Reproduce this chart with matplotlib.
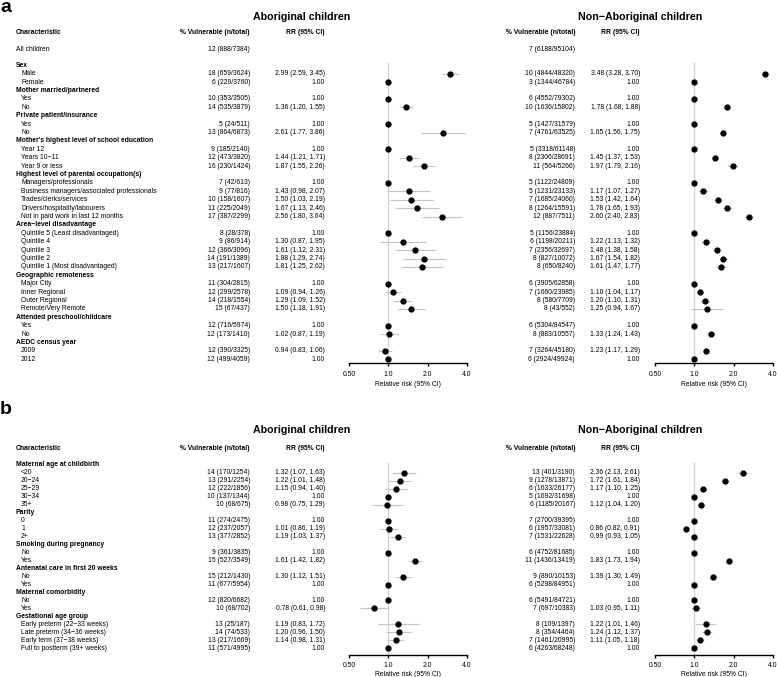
import numpy as np
import matplotlib
matplotlib.use("Agg")
import matplotlib.pyplot as plt
from matplotlib.ticker import FixedLocator, NullLocator

plt.rcParams['font.family'] = ['Liberation Sans', 'DejaVu Sans']
nan = np.nan

# ---------------- panel a data ----------------
a_groups = ["Sex", "Mother married/partnered", "Private patient/insurance",
            "Mother's highest level of school education",
            "Highest level of parental occupation(s)", "Area\u2212level disadvantage",
            "Geographic remoteness", "Attended preschool/childcare", "AEDC census year"]
a_levels = [["Male", "Female"], ["Yes", "No"], ["Yes", "No"],
            ["Year 12", "Years 10\u221211", "Year 9 or less"],
            ["Managers/professionals", "Business managers/associated professionals",
             "Trades/clerks/services", "Drivers/hospitality/labourers",
             "Not in paid work in last 12 months"],
            ["Quintile 5 (Least disadvantaged)", "Quintile 4", "Quintile 3", "Quintile 2",
             "Quintile 1 (Most disadvantaged)"],
            ["Major City", "Inner Regional", "Outer Regional", "Remote/Very Remote"],
            ["Yes", "No"], ["2009", "2012"]]

ab_all = (12, 888, 7384)
na_all = (7, 6188, 95104)

ab_a_pct = [18, 6, 10, 14, 5, 13, 9, 12, 16, 7, 9, 10, 11, 17, 8, 9, 12, 14, 13,
            11, 12, 14, 15, 12, 12, 12, 12]
ab_a_n = [659, 229, 353, 535, 24, 864, 185, 473, 230, 42, 77, 158, 225, 387,
          28, 86, 366, 191, 217, 304, 299, 218, 67, 716, 173, 390, 499]
ab_a_tot = [3624, 3760, 3505, 3879, 511, 6873, 2140, 3820, 1424, 613, 816, 1607, 2049, 2299,
            378, 914, 3096, 1389, 1607, 2815, 2578, 1554, 437, 5974, 1410, 3325, 4059]
ab_a_rr = [2.99, 1, 1, 1.36, 1, 2.61, 1, 1.44, 1.87, 1, 1.43, 1.50, 1.67, 2.56,
           1, 1.30, 1.61, 1.88, 1.81, 1, 1.09, 1.29, 1.50, 1, 1.02, 0.94, 1]
ab_a_lo = [2.59, nan, nan, 1.20, nan, 1.77, nan, 1.21, 1.55, nan, 0.98, 1.03, 1.13, 1.80,
           nan, 0.87, 1.12, 1.29, 1.25, nan, 0.94, 1.09, 1.18, nan, 0.87, 0.83, nan]
ab_a_hi = [3.45, nan, nan, 1.55, nan, 3.86, nan, 1.71, 2.26, nan, 2.07, 2.19, 2.46, 3.64,
           nan, 1.95, 2.31, 2.74, 2.62, nan, 1.26, 1.52, 1.91, nan, 1.19, 1.06, nan]

na_a_pct = [10, 3, 6, 10, 5, 7, 5, 8, 11, 5, 5, 7, 8, 12, 5, 6, 7, 8, 8,
            6, 7, 8, 8, 6, 8, 7, 6]
na_a_n = [4844, 1344, 4552, 1636, 1427, 4761, 3318, 2306, 564, 1122, 1231, 1685, 1264, 887,
          1156, 1198, 2356, 827, 650, 3905, 1660, 580, 43, 5304, 883, 3264, 2924]
na_a_tot = [48320, 46784, 79302, 15802, 31579, 63525, 61148, 28691, 5266, 24809, 23133,
            24060, 15591, 7511, 23884, 20211, 32697, 10072, 8240, 62858, 23985, 7709, 552,
            84547, 10557, 45180, 49924]
na_a_rr = [3.48, 1, 1, 1.78, 1, 1.65, 1, 1.45, 1.97, 1, 1.17, 1.53, 1.78, 2.60,
           1, 1.22, 1.48, 1.67, 1.61, 1, 1.10, 1.20, 1.25, 1, 1.33, 1.23, 1]
na_a_lo = [3.28, nan, nan, 1.68, nan, 1.56, nan, 1.37, 1.79, nan, 1.07, 1.42, 1.65, 2.40,
           nan, 1.13, 1.38, 1.54, 1.47, nan, 1.04, 1.10, 0.94, nan, 1.24, 1.17, nan]
na_a_hi = [3.70, nan, nan, 1.88, nan, 1.75, nan, 1.53, 2.16, nan, 1.27, 1.64, 1.93, 2.83,
           nan, 1.32, 1.58, 1.82, 1.77, nan, 1.17, 1.31, 1.67, nan, 1.43, 1.29, nan]

# ---------------- panel b data ----------------
b_groups = ["Maternal age at childbirth", "Parity", "Smoking during pregnancy",
            "Antenatal care in first 20 weeks", "Maternal comorbidity", "Gestational age group"]
b_levels = [["<20", "20\u221224", "25\u221229", "30\u221234", "35+"], ["0", "1", "2+"],
            ["No", "Yes"], ["No", "Yes"], ["No", "Yes"],
            ["Early preterm (22\u221233 weeks)", "Late preterm (34\u221236 weeks)",
             "Early term (37\u221238 weeks)", "Full to postterm (39+ weeks)"]]

ab_b_pct = [14, 13, 12, 10, 10, 11, 12, 13, 9, 15, 15, 11, 12, 10, 13, 14, 13, 11]
ab_b_n = [170, 291, 222, 137, 68, 274, 237, 377, 361, 527, 212, 677, 820, 68, 25, 74, 217, 571]
ab_b_tot = [1254, 2254, 1856, 1344, 675, 2475, 2057, 2852, 3835, 3549, 1430, 5954,
            6682, 702, 187, 533, 1669, 4995]
ab_b_rr = [1.32, 1.22, 1.15, 1, 0.98, 1, 1.01, 1.19, 1, 1.61, 1.30, 1, 1, 0.78, 1.19, 1.20, 1.14, 1]
ab_b_lo = [1.07, 1.01, 0.94, nan, 0.75, nan, 0.86, 1.03, nan, 1.42, 1.12, nan, nan, 0.61,
           0.83, 0.96, 0.98, nan]
ab_b_hi = [1.63, 1.48, 1.40, nan, 1.29, nan, 1.19, 1.37, nan, 1.82, 1.51, nan, nan, 0.98,
           1.72, 1.50, 1.31, nan]

na_b_pct = [13, 9, 6, 5, 6, 7, 6, 7, 6, 11, 9, 6, 6, 7, 8, 8, 7, 6]
na_b_n = [401, 1278, 1633, 1692, 1185, 2700, 1957, 1531, 4752, 1436, 890, 5298, 5491, 697,
          109, 354, 1461, 4263]
na_b_tot = [3190, 13871, 26177, 31698, 20167, 39395, 33081, 22628, 81685, 13419, 10153, 84951,
            84721, 10383, 1397, 4464, 20995, 68248]
na_b_rr = [2.36, 1.72, 1.17, 1, 1.12, 1, 0.86, 0.99, 1, 1.83, 1.39, 1, 1, 1.03, 1.22, 1.24, 1.11, 1]
na_b_lo = [2.13, 1.61, 1.10, nan, 1.04, nan, 0.82, 0.93, nan, 1.73, 1.30, nan, nan, 0.95,
           1.01, 1.12, 1.05, nan]
na_b_hi = [2.61, 1.84, 1.25, nan, 1.20, nan, 0.91, 1.05, nan, 1.94, 1.49, nan, nan, 1.11,
           1.46, 1.37, 1.18, nan]

ticks = [0.5, 1.0, 2.0, 4.0]
tick_labels = ["0.50", "1.0", "2.0", "4.0"]

# ---------------- layout ----------------
W, H = 777, 677
fig = plt.figure(figsize=(W / 100, H / 100), dpi=100)
bg = fig.add_axes([0, 0, 1, 1])
bg.set_xlim(0, W)
bg.set_ylim(H, 0)
bg.axis("off")

FS = 4.9
x_lab, x_sub = 16, 21
cols = {"ab": (250, 325, 349, 467), "na": (575, 640, 655, 773)}


def forest_ax(x0, x1, top, bottom, pad=3.2, labelpad=2.2):
    ax = fig.add_axes([x0 / W, 1 - bottom / H, (x1 - x0) / W, (bottom - top) / H])
    ax.set_xscale("log")
    ax.set_xlim(0.5, 4.0)
    ax.set_ylim(bottom, top)
    ax.patch.set_visible(False)
    for s in ["top", "left", "right"]:
        ax.spines[s].set_visible(False)
    ax.spines["bottom"].set_linewidth(1.0)
    ax.xaxis.set_major_locator(FixedLocator(ticks))
    ax.xaxis.set_minor_locator(NullLocator())
    ax.set_xticklabels(tick_labels)
    ax.set_yticks([])
    ax.tick_params(axis="x", length=2.5, width=1.0, pad=pad, labelsize=FS)
    ax.set_xlabel("Relative risk (95% CI)", fontsize=FS, labelpad=labelpad)
    ax.axvline(1.0, color="#d0d0d0", lw=0.9, zorder=0)
    return ax


def headers(y_title, y_head):
    bg.text(302, y_title, "Aboriginal children", fontsize=7.7, fontweight="bold",
            ha="center", va="center")
    bg.text(640, y_title, "Non\u2212Aboriginal children", fontsize=7.7, fontweight="bold",
            ha="center", va="center")
    bg.text(x_lab, y_head, "Characteristic", fontsize=FS, fontweight="bold", va="center")
    for key in cols:
        xp, xr = cols[key][:2]
        bg.text(xp, y_head, "% Vulnerable (n/total)", fontsize=FS, fontweight="bold",
                ha="right", va="center")
        bg.text(xr - 20, y_head, "RR (95% CI)", fontsize=FS, fontweight="bold",
                ha="center", va="center")


def draw_panel(groups, levels, y0, dy, series, axes):
    y = y0
    k = 0
    for g, levs in zip(groups, levels):
        bg.text(x_lab, y, g, fontsize=FS, fontweight="bold", va="center")
        y += dy
        for lev in levs:
            bg.text(x_sub, y, lev, fontsize=FS, va="center")
            for key, ax in axes.items():
                pct, n, tot, rr, lo, hi = (arr[k] for arr in series[key])
                xp, xr = cols[key][:2]
                bg.text(xp, y, f"{pct} ({n}/{tot})", fontsize=FS, ha="right", va="center")
                s = "1.00" if np.isnan(lo) else f"{rr:.2f} ({lo:.2f}, {hi:.2f})"
                bg.text(xr, y, s, fontsize=FS, ha="right", va="center")
                if not np.isnan(lo):
                    ax.plot([lo, hi], [y, y], color="#c4c4c4", lw=0.8, zorder=1,
                            solid_capstyle="butt")
                ax.plot(rr, y, "o", color="black", ms=3.5, zorder=3, clip_on=False)
            y += dy
            k += 1


# panel a
bg.text(0, 7, "a", fontsize=14, fontweight="bold", va="center")
headers(17, 33)
bg.text(x_lab, 49.5, "All children", fontsize=FS, va="center")
for key, vals in (("ab", ab_all), ("na", na_all)):
    bg.text(cols[key][0], 49.5, "{} ({}/{})".format(*vals), fontsize=FS, ha="right", va="center")
axes_a = {k: forest_ax(cols[k][2], cols[k][3], 63, 363) for k in cols}
draw_panel(a_groups, a_levels, 65.3, 8.4,
           {"ab": (ab_a_pct, ab_a_n, ab_a_tot, ab_a_rr, ab_a_lo, ab_a_hi),
            "na": (na_a_pct, na_a_n, na_a_tot, na_a_rr, na_a_lo, na_a_hi)}, axes_a)

# panel b
bg.text(0, 409, "b", fontsize=14, fontweight="bold", va="center")
headers(430, 448)
axes_b = {k: forest_ax(cols[k][2], cols[k][3], 463, 655, pad=2.6, labelpad=1.2) for k in cols}
draw_panel(b_groups, b_levels, 465, 7.97,
           {"ab": (ab_b_pct, ab_b_n, ab_b_tot, ab_b_rr, ab_b_lo, ab_b_hi),
            "na": (na_b_pct, na_b_n, na_b_tot, na_b_rr, na_b_lo, na_b_hi)}, axes_b)

fig.savefig("out.png", dpi=100)
